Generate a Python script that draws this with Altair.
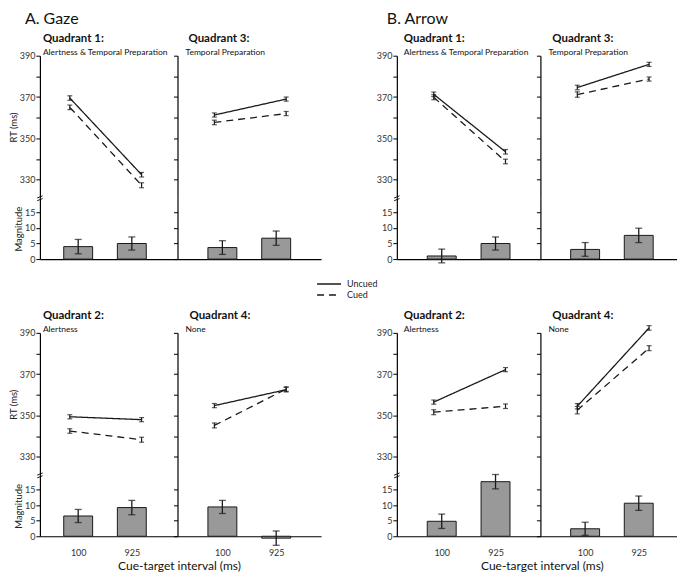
import altair as alt
import pandas as pd

FONT = "Lato"
INK = "#1a1a1a"

ctis = ["100", "925"]
conditions = ["Uncued", "Cued"]

# Mean RT (ms) at CTI 100 and 925
gaze_q1_uncued = [369.5, 332.4]
gaze_q1_cued = [365.0, 327.3]
gaze_q3_uncued = [361.3, 369.0]
gaze_q3_cued = [357.7, 362.0]
gaze_q2_uncued = [349.4, 348.0]
gaze_q2_cued = [342.5, 338.3]
gaze_q4_uncued = [354.8, 362.5]
gaze_q4_cued = [345.2, 362.8]
arrow_q1_uncued = [371.3, 343.5]
arrow_q1_cued = [369.9, 338.8]
arrow_q3_uncued = [374.6, 385.8]
arrow_q3_cued = [371.2, 378.7]
arrow_q2_uncued = [356.5, 372.2]
arrow_q2_cued = [351.6, 354.5]
arrow_q4_uncued = [354.5, 392.4]
arrow_q4_cued = [352.6, 382.6]

# RT error (ms): uncued 100, uncued 925, cued 100, cued 925
gaze_q1_rt_err = [1.1, 1.1, 1.1, 1.2]
gaze_q3_rt_err = [1.0, 1.0, 1.1, 1.0]
gaze_q2_rt_err = [1.0, 1.0, 1.1, 1.2]
gaze_q4_rt_err = [1.0, 1.1, 1.2, 1.1]
arrow_q1_rt_err = [1.1, 1.1, 1.2, 1.1]
arrow_q3_rt_err = [1.1, 1.0, 1.3, 1.0]
arrow_q2_rt_err = [1.0, 1.0, 1.2, 1.1]
arrow_q4_rt_err = [1.3, 1.1, 1.8, 1.2]

# Cueing magnitude at CTI 100 and 925, with error
gaze_q1_mag = [4.0, 5.0]
gaze_q1_mag_err = [2.3, 2.1]
gaze_q3_mag = [3.7, 6.7]
gaze_q3_mag_err = [2.2, 2.3]
gaze_q2_mag = [6.5, 9.2]
gaze_q2_mag_err = [2.1, 2.3]
gaze_q4_mag = [9.4, -0.6]
gaze_q4_mag_err = [2.1, 2.3]
arrow_q1_mag = [1.0, 5.0]
arrow_q1_mag_err = [2.2, 2.1]
arrow_q3_mag = [3.1, 7.6]
arrow_q3_mag_err = [2.2, 2.3]
arrow_q2_mag = [4.8, 17.5]
arrow_q2_mag_err = [2.3, 2.3]
arrow_q4_mag = [2.4, 10.6]
arrow_q4_mag_err = [2.1, 2.3]

# layout (pixels)
RT_H = 143
MAG_H = 61
ROW_GAP = 74
COL_GAP = 76
GW = [138, 144]
AW = [144, 137]
LINE_X_G1 = (30, 102)
BAR_X_G1 = (36, 94)
LINE_X = (37, 109)
BAR_X = (43, 101)

LEGEND = alt.Legend(
    orient="none", legendX=284, legendY=223, title=None,
    symbolType="M-2.4,0L2.4,0", symbolSize=100, symbolStrokeWidth=1.3,
    symbolStrokeColor=INK, symbolFillColor="transparent",
    labelFont=FONT, labelFontSize=9, labelColor="#222", labelOffset=12,
    rowPadding=-1, padding=0,
)


def text_layer(txt, x, y, size, weight="normal", align="left", baseline="alphabetic"):
    return alt.Chart(pd.DataFrame({"t": [txt]})).mark_text(
        font=FONT, fontSize=size, fontWeight=weight, align=align,
        baseline=baseline, color="#111",
    ).encode(text="t:N", x=alt.value(x), y=alt.value(y))


def spacer(w, h):
    return alt.Chart(pd.DataFrame({"t": [""]})).mark_text().encode(
        text="t:N").properties(width=w, height=h)


def px_domain(width, pos):
    step = pos[1] - pos[0]
    return [-pos[0] / step, (width - pos[0]) / step]


def rt_panel(uncued, cued, rt_err, width, left, first, quad_title, subtitle,
             heading=None, heading_dx=-10, title_dx=8, line_x=LINE_X):
    df = pd.DataFrame({
        "idx": [0, 1, 0, 1],
        "cti": ctis * 2,
        "cond": [conditions[0]] * 2 + [conditions[1]] * 2,
        "rt": uncued + cued,
        "err": rt_err,
    })
    df["lo"] = df["rt"] - df["err"]
    df["hi"] = df["rt"] + df["err"]

    xr = alt.X("idx:Q", scale=alt.Scale(domain=px_domain(width, line_x), nice=False, zero=False), axis=None)
    ysc = alt.Scale(domain=[321, 390], nice=False, zero=False)
    yax = alt.Axis(
        values=list(range(330, 391, 10)),
        labelExpr="datum.value % 20 == 10 ? datum.label : ''",
        labels=left, title="RT (ms)" if first else None,
    )
    base = alt.Chart(df)
    lines = base.mark_line(color=INK, strokeWidth=1.3).encode(
        x=xr, y=alt.Y("rt:Q", scale=ysc, axis=yax),
        strokeDash=alt.StrokeDash(
            "cond:N", scale=alt.Scale(domain=conditions, range=[[1, 0], [7, 5]]), legend=LEGEND),
        order="idx:Q",
    )
    rules = base.mark_rule(color=INK, strokeWidth=1.2).encode(
        x=xr, y=alt.Y("lo:Q", scale=ysc, axis=yax), y2="hi:Q")
    cap_lo = base.mark_tick(orient="horizontal", size=5, thickness=1.2, color=INK).encode(
        x=xr, y=alt.Y("lo:Q", scale=ysc, axis=yax))
    cap_hi = base.mark_tick(orient="horizontal", size=5, thickness=1.2, color=INK).encode(
        x=xr, y=alt.Y("hi:Q", scale=ysc, axis=yax))
    layers = [lines, rules, cap_lo, cap_hi,
              text_layer(quad_title, title_dx, -14, 11.5, "bold"),
              text_layer(subtitle, title_dx if left else 8, -1, 8.5)]
    if heading:
        layers.append(text_layer(heading, heading_dx, -32, 16))
    if left:
        brk = alt.Chart(pd.DataFrame({"t": [0]})).mark_point(
            shape="M-1,-0.1L1,-0.9M-1,0.9L1,0.1", filled=False, stroke=INK,
            strokeWidth=1, size=30, opacity=1,
        ).encode(x=alt.value(0), y=alt.value(RT_H))
        layers.append(brk)
    return alt.layer(*layers).properties(width=width, height=RT_H)


def mag_panel(mag, mag_err, width, left, first, bottom, bar_x=BAR_X):
    mdf = pd.DataFrame({"idx": [0, 1], "cti": ctis, "mag": mag, "err": mag_err})
    mdf["lo"] = mdf["mag"] - mdf["err"]
    mdf["hi"] = mdf["mag"] + mdf["err"]
    xb = alt.X("idx:Q", scale=alt.Scale(domain=px_domain(width, bar_x), nice=False, zero=False),
               axis=alt.Axis(values=[0, 1], ticks=False, labels=bottom, title=None, labelPadding=12,
                             labelExpr=f"datum.value == 0 ? '{ctis[0]}' : '{ctis[1]}'"))
    msc = alt.Scale(domain=[0, 19.5], nice=False, zero=False)
    max_ = alt.Axis(values=[0, 5, 10, 15], labels=left, title="Magnitude" if first else None)
    mbase = alt.Chart(mdf)
    bars = mbase.mark_bar(size=29, color="#999999", stroke=INK, strokeWidth=1).encode(
        x=xb, y=alt.Y("mag:Q", scale=msc, axis=max_), y2=alt.datum(0))
    mrules = mbase.mark_rule(color=INK, strokeWidth=1.3).encode(
        x=xb, y=alt.Y("lo:Q", scale=msc, axis=max_), y2="hi:Q")
    mcap_lo = mbase.mark_tick(orient="horizontal", size=7, thickness=1.3, color=INK).encode(
        x=xb, y=alt.Y("lo:Q", scale=msc, axis=max_))
    mcap_hi = mbase.mark_tick(orient="horizontal", size=7, thickness=1.3, color=INK).encode(
        x=xb, y=alt.Y("hi:Q", scale=msc, axis=max_))
    mlayers = [bars, mrules, mcap_lo, mcap_hi]
    if bottom and left:
        mlayers.append(text_layer("Cue-target interval (ms)", width + 2, MAG_H + 34, 12, align="center"))
    return alt.layer(*mlayers).properties(width=width, height=MAG_H)


cells = [
    # top row: RT
    rt_panel(gaze_q1_uncued, gaze_q1_cued, gaze_q1_rt_err, GW[0], True, True,
             "Quadrant 1:", "Alertness & Temporal Preparation", "A. Gaze",
             heading_dx=-15, title_dx=3, line_x=LINE_X_G1),
    rt_panel(gaze_q3_uncued, gaze_q3_cued, gaze_q3_rt_err, GW[1], False, False,
             "Quadrant 3:", "Temporal Preparation", title_dx=11),
    spacer(COL_GAP, RT_H),
    rt_panel(arrow_q1_uncued, arrow_q1_cued, arrow_q1_rt_err, AW[0], True, False,
             "Quadrant 1:", "Alertness & Temporal Preparation", "B. Arrow",
             heading_dx=-10, title_dx=7),
    rt_panel(arrow_q3_uncued, arrow_q3_cued, arrow_q3_rt_err, AW[1], False, False,
             "Quadrant 3:", "Temporal Preparation", title_dx=12),
    # top row: magnitude
    mag_panel(gaze_q1_mag, gaze_q1_mag_err, GW[0], True, True, False, bar_x=BAR_X_G1),
    mag_panel(gaze_q3_mag, gaze_q3_mag_err, GW[1], False, False, False),
    spacer(COL_GAP, MAG_H),
    mag_panel(arrow_q1_mag, arrow_q1_mag_err, AW[0], True, False, False),
    mag_panel(arrow_q3_mag, arrow_q3_mag_err, AW[1], False, False, False),
    # gap row
    spacer(GW[0], ROW_GAP), spacer(GW[1], ROW_GAP), spacer(COL_GAP, ROW_GAP),
    spacer(AW[0], ROW_GAP), spacer(AW[1], ROW_GAP),
    # bottom row: RT
    rt_panel(gaze_q2_uncued, gaze_q2_cued, gaze_q2_rt_err, GW[0], True, True,
             "Quadrant 2:", "Alertness", title_dx=3, line_x=LINE_X_G1),
    rt_panel(gaze_q4_uncued, gaze_q4_cued, gaze_q4_rt_err, GW[1], False, False,
             "Quadrant 4:", "None", title_dx=12),
    spacer(COL_GAP, RT_H),
    rt_panel(arrow_q2_uncued, arrow_q2_cued, arrow_q2_rt_err, AW[0], True, False,
             "Quadrant 2:", "Alertness", title_dx=7),
    rt_panel(arrow_q4_uncued, arrow_q4_cued, arrow_q4_rt_err, AW[1], False, False,
             "Quadrant 4:", "None", title_dx=12),
    # bottom row: magnitude
    mag_panel(gaze_q2_mag, gaze_q2_mag_err, GW[0], True, True, True, bar_x=BAR_X_G1),
    mag_panel(gaze_q4_mag, gaze_q4_mag_err, GW[1], False, False, True),
    spacer(COL_GAP, MAG_H),
    mag_panel(arrow_q2_mag, arrow_q2_mag_err, AW[0], True, False, True),
    mag_panel(arrow_q4_mag, arrow_q4_mag_err, AW[1], False, False, True),
]

chart = alt.concat(*cells, columns=5, spacing=0, bounds="flush").properties(
    padding={"left": 0, "top": 2, "right": 0, "bottom": 0}
).configure_view(stroke=None).configure_axis(
    grid=False, domainColor="#000", tickColor="#000", domainWidth=1.2, tickWidth=1,
    tickSize=4, labelFont=FONT, labelFontSize=9, labelColor="#333", labelPadding=1,
    titleFont=FONT, titleFontSize=9.5, titleFontWeight="normal", titleColor="#222", titlePadding=1,
)

chart.save("out.html", embed_options={"renderer": "svg", "actions": False})
